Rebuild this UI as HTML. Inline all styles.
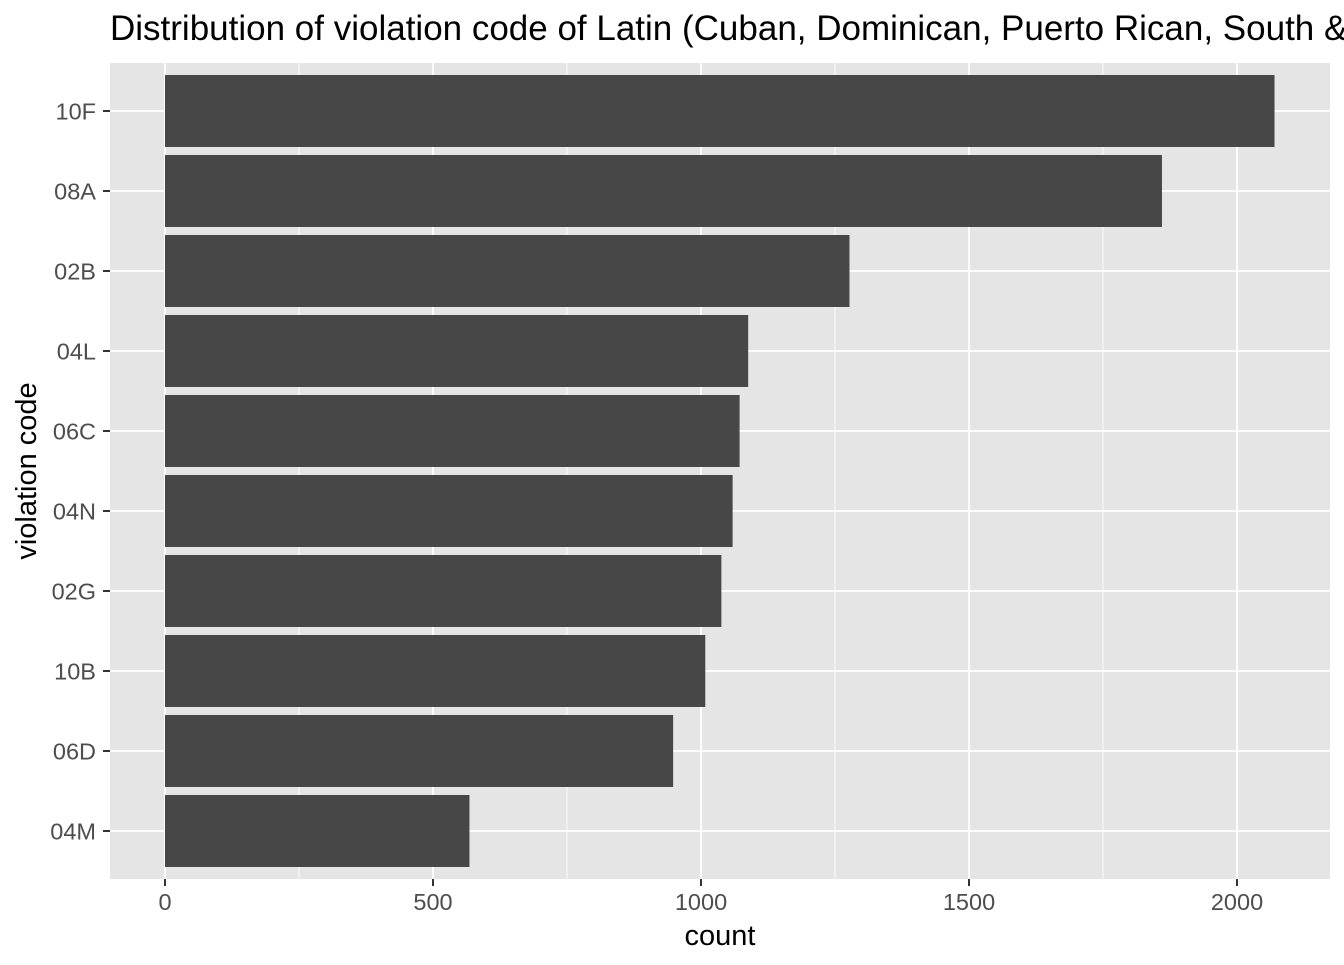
<!DOCTYPE html>
<html><head><meta charset="utf-8"><style>
body{margin:0;background:#fff}
svg text{font-family:"Liberation Sans",Arial,sans-serif}
</style></head><body>
<svg width="1344" height="960" xmlns="http://www.w3.org/2000/svg">
<text x="110" y="40" font-size="35" fill="#000">Distribution of violation code of Latin (Cuban, Dominican, Puerto Rican, South &amp; Central American)</text>
<rect x="110" y="63" width="1220" height="816" fill="#e5e5e5"/>
<g id="grid"></g><g id="bars"></g><g id="axes"></g>
<text x="720" y="945" font-size="29" text-anchor="middle" fill="#000">count</text>
<text transform="translate(36,471) rotate(-90)" font-size="29" text-anchor="middle" fill="#000">violation code</text>
</svg>
<script>
const categories=["10F","08A","02B","04L","06C","04N","02G","10B","06D","04M"];
const counts=[2070,1860,1277,1088,1072,1059,1038,1008,948,568];
const xTicks=[0,500,1000,1500,2000];
const xMinor=[250,750,1250,1750];
const NS="http://www.w3.org/2000/svg";
const L=110,R=1330,T=63,B=879;
const x0=165, k=(433-165)/500;
const xs=v=>x0+v*k;
const band=(B-T)/(categories.length+0.2);
const ys=i=>T+(i+0.6)*band;
function mk(t,a,p){const e=document.createElementNS(NS,t);for(const n in a)e.setAttribute(n,a[n]);p.appendChild(e);return e;}
const g=document.getElementById('grid'),b=document.getElementById('bars'),ax=document.getElementById('axes');
xMinor.forEach(v=>{const l=mk('line',{x1:xs(v),x2:xs(v),y1:T,y2:B,stroke:'#fff','stroke-width':0.8},g);

});
xTicks.forEach(v=>{const l=mk('line',{x1:xs(v),x2:xs(v),y1:T,y2:B,stroke:'#fff','stroke-width':1.8},g);


const t=mk('line',{x1:xs(v),x2:xs(v),y1:B,y2:B+7,stroke:'#333','stroke-width':2},ax);


const tx=mk('text',{x:xs(v),y:B+31,'font-size':23.5,'text-anchor':'middle',fill:'#4d4d4d'},ax);tx.textContent=v;

});
categories.forEach((c,i)=>{const y=ys(i);
const l=mk('line',{x1:L,x2:R,y1:y,y2:y,stroke:'#fff','stroke-width':1.8},g);


const r=mk('rect',{x:xs(0),y:y-band*0.45,width:xs(counts[i])-xs(0),height:band*0.9,fill:'#474747'},b);


const t=mk('line',{x1:L-7,x2:L,y1:y,y2:y,stroke:'#333','stroke-width':2},ax);


const tx=mk('text',{x:L-14,y:y+8.5,'font-size':23.5,'text-anchor':'end',fill:'#4d4d4d'},ax);tx.textContent=c;

});
</script>
</body></html>
